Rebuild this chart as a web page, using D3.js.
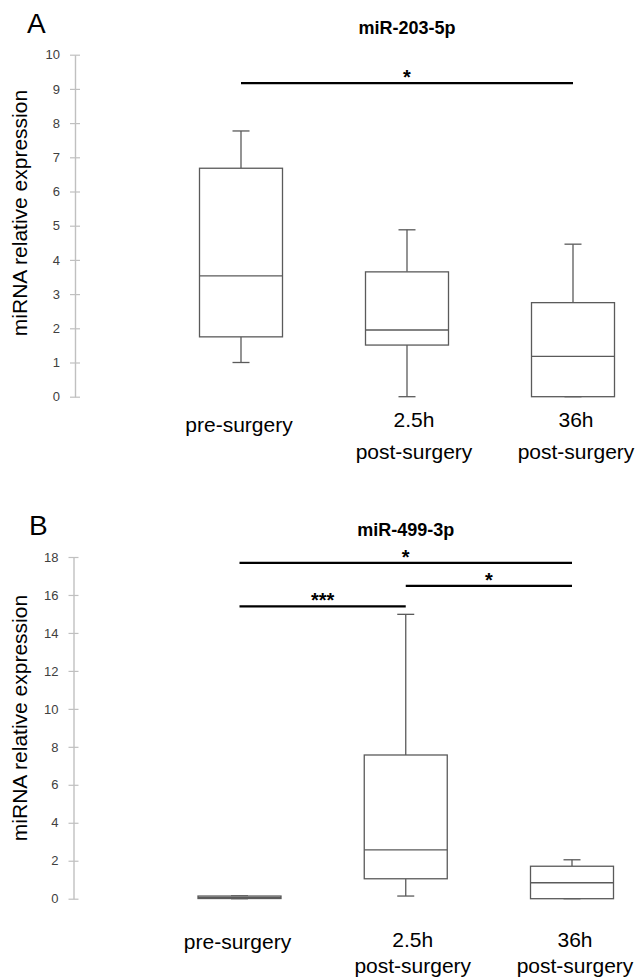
<!DOCTYPE html>
<html>
<head>
<meta charset="utf-8">
<script src="https://cdn.jsdelivr.net/npm/d3@7"></script>
<style>
  body { margin: 0; background: #fff; }
  svg { display: block; font-family: "Liberation Sans", Arial, sans-serif; }
</style>
</head>
<body>
<svg id="chart" width="638" height="977"></svg>
<script>
// groups on the x axis
var categories = ["pre-surgery", "2.5h post-surgery", "36h post-surgery"];
var categoryLines = [["pre-surgery"], ["2.5h", "post-surgery"], ["36h", "post-surgery"]];

// panel A - miR-203-5p (min, q1, median, q3, max)
var mir203Min    = [1.00, 0.00, 0.00];
var mir203Q1     = [1.75, 1.51, 0.00];
var mir203Median = [3.53, 1.95, 1.18];
var mir203Q3     = [6.68, 3.65, 2.75];
var mir203Max    = [7.77, 4.88, 4.46];
var mir203Ticks  = [0, 1, 2, 3, 4, 5, 6, 7, 8, 9, 10];
var mir203Sig    = [{from: 0, to: 2, level: 9.17, label: "*"}];

// panel B - miR-499-3p
var mir499Min    = [0.00, 0.14, 0.00];
var mir499Q1     = [0.01, 1.05, 0.00];
var mir499Median = [0.07, 2.57, 0.84];
var mir499Q3     = [0.14, 7.57, 1.71];
var mir499Max    = [0.15, 14.98, 2.05];
var mir499Ticks  = [0, 2, 4, 6, 8, 10, 12, 14, 16, 18];
var mir499Sig    = [
  {from: 0, to: 2, level: 17.69, label: "*"},
  {from: 1, to: 2, level: 16.48, label: "*"},
  {from: 0, to: 1, level: 15.40, label: "***"}
];

var svg = d3.select("#chart");
svg.append("rect").attr("width", 638).attr("height", 977).attr("fill", "#fff");

var boxW = 83, capW = 17;
var labelDx = [-2, 7, 3];

function drawPanel(p) {
  var g = svg.append("g");
  var y = d3.scaleLinear().domain([0, d3.max(p.ticks)]).range([p.bottom, p.top]);
  var x = d3.scalePoint().domain(categories).range(p.xRange);

  // letter + title
  g.append("text").attr("x", p.letterX).attr("y", p.letterY)
    .attr("font-size", 28).attr("fill", "#000").text(p.letter);
  g.append("text").attr("x", (p.xRange[0] + p.xRange[1]) / 2).attr("y", p.titleY)
    .attr("text-anchor", "middle").attr("font-size", 18).attr("font-weight", "bold")
    .text(p.title);

  // y axis
  var ax = g.append("g").attr("transform", "translate(" + p.axisX + ",0)")
    .call(d3.axisLeft(y).tickValues(p.ticks).tickSize(5).tickSizeOuter(0).tickPadding(10));
  ax.select(".domain").attr("stroke", "#c0c0c0").attr("stroke-width", 1.4);
  ax.selectAll(".tick line").attr("x1", 5).attr("stroke", "#c0c0c0").attr("stroke-width", 1.2);
  ax.selectAll(".tick text").attr("font-size", 13).attr("fill", "#404040")
    .attr("font-family", "\"Liberation Sans\", Arial, sans-serif");

  g.append("text")
    .attr("transform", "translate(" + p.ylabX + "," + p.ylabY + ") rotate(-90)")
    .attr("text-anchor", "middle").attr("font-size", 21).attr("fill", "#000")
    .text("miRNA relative expression");

  // boxes
  var rows = categories.map(function (c, i) {
    return {cat: c, min: p.min[i], q1: p.q1[i], med: p.med[i], q3: p.q3[i], max: p.max[i]};
  });
  var box = g.selectAll("g.box").data(rows).enter().append("g").attr("class", "box");
  var stroke = "#5a5a5a";
  box.append("line")
    .attr("x1", function (d) { return x(d.cat); }).attr("x2", function (d) { return x(d.cat); })
    .attr("y1", function (d) { return y(d.max); }).attr("y2", function (d) { return y(d.q3); })
    .attr("stroke", stroke).attr("stroke-width", 1.3);
  box.append("line")
    .attr("x1", function (d) { return x(d.cat); }).attr("x2", function (d) { return x(d.cat); })
    .attr("y1", function (d) { return y(d.q1); }).attr("y2", function (d) { return y(d.min); })
    .attr("stroke", stroke).attr("stroke-width", 1.3);
  box.append("line")
    .attr("x1", function (d) { return x(d.cat) - capW / 2; }).attr("x2", function (d) { return x(d.cat) + capW / 2; })
    .attr("y1", function (d) { return y(d.max); }).attr("y2", function (d) { return y(d.max); })
    .attr("stroke", stroke).attr("stroke-width", 1.3);
  box.append("line")
    .attr("x1", function (d) { return x(d.cat) - capW / 2; }).attr("x2", function (d) { return x(d.cat) + capW / 2; })
    .attr("y1", function (d) { return y(d.min); }).attr("y2", function (d) { return y(d.min); })
    .attr("stroke", stroke).attr("stroke-width", 1.3);
  box.append("rect")
    .attr("x", function (d) { return x(d.cat) - boxW / 2; })
    .attr("y", function (d) { return y(d.q3); })
    .attr("width", boxW)
    .attr("height", function (d) { return y(d.q1) - y(d.q3); })
    .attr("fill", "#fff").attr("stroke", stroke).attr("stroke-width", 1.3);
  box.append("line")
    .attr("x1", function (d) { return x(d.cat) - boxW / 2; }).attr("x2", function (d) { return x(d.cat) + boxW / 2; })
    .attr("y1", function (d) { return y(d.med); }).attr("y2", function (d) { return y(d.med); })
    .attr("stroke", stroke).attr("stroke-width", 1.3);

  // significance bars
  var sig = g.selectAll("g.sig").data(p.sig).enter().append("g").attr("class", "sig");
  sig.append("line")
    .attr("x1", function (d) { return x(categories[d.from]); })
    .attr("x2", function (d) { return x(categories[d.to]); })
    .attr("y1", function (d) { return y(d.level); }).attr("y2", function (d) { return y(d.level); })
    .attr("stroke", "#000").attr("stroke-width", 2.4);
  sig.append("text")
    .attr("x", function (d) { return (x(categories[d.from]) + x(categories[d.to])) / 2; })
    .attr("y", function (d) { return y(d.level) + 1; })
    .attr("text-anchor", "middle").attr("font-size", 20).attr("font-weight", "bold")
    .text(function (d) { return d.label; });

  // category labels
  var lab = g.selectAll("text.cat").data(categories).enter().append("text").attr("class", "cat")
    .attr("text-anchor", "middle").attr("font-size", 21).attr("fill", "#000");
  lab.each(function (c, i) {
    var t = d3.select(this);
    var n = categoryLines[i].length;
    categoryLines[i].forEach(function (line, k) {
      t.append("tspan").attr("x", x(c) + labelDx[i])
        .attr("y", p.labelY + k * p.lineGap + (n === 1 ? p.singleDy : 0)).text(line);
    });
  });
}

drawPanel({
  letter: "A", letterX: 27, letterY: 33, title: "miR-203-5p", titleY: 34,
  top: 54.7, bottom: 396.7, axisX: 75, ylabX: 27, ylabY: 213, xRange: [241, 573],
  ticks: mir203Ticks, min: mir203Min, q1: mir203Q1, med: mir203Median, q3: mir203Q3, max: mir203Max,
  sig: mir203Sig, labelY: 427, lineGap: 32, singleDy: 5
});

drawPanel({
  letter: "B", letterX: 29, letterY: 535, title: "miR-499-3p", titleY: 536,
  top: 557, bottom: 898.7, axisX: 73.5, ylabX: 27, ylabY: 718, xRange: [239.5, 572],
  ticks: mir499Ticks, min: mir499Min, q1: mir499Q1, med: mir499Median, q3: mir499Q3, max: mir499Max,
  sig: mir499Sig, labelY: 947, lineGap: 26, singleDy: 2
});
</script>
</body>
</html>
